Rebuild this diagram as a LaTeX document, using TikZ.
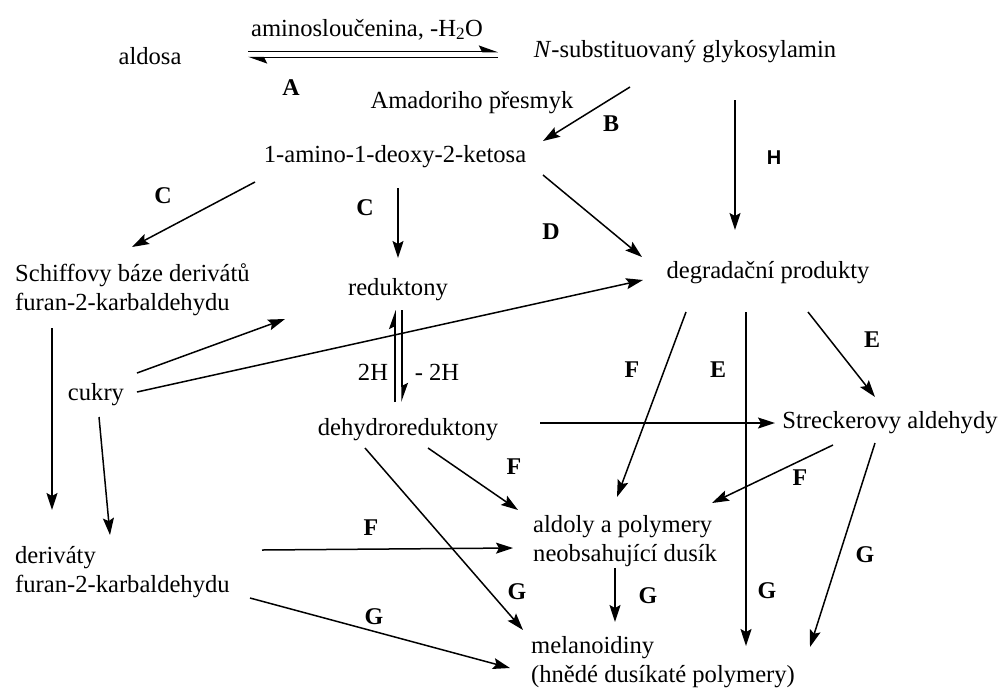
\documentclass[tikz,border=0pt]{standalone}
\usepackage{fontspec}
\setmainfont{Liberation Serif}
\setsansfont{Liberation Sans}
\usetikzlibrary{arrows.meta}
\tikzset{
  chem/.style={font=\fontsize{24.6}{29}\selectfont, inner sep=0pt},
  chemtwo/.style={chem, align=left, anchor=west},
  tag/.style={font=\bfseries\fontsize{24}{26}\selectfont, inner sep=0pt},
  flow/.style={-{Stealth[length=17pt,width=11pt,inset=3pt]}, line width=1.5pt},
  half/.style={-{Stealth[harpoon,length=17pt,width=12pt,inset=3pt]}, line width=1.5pt},
}

\begin{document}
\begin{tikzpicture}[x=1pt, y=-1pt]
    \useasboundingbox (0,0) rectangle (1006,689);
    % substances
    \node[chem, anchor=base] (ald) at (150,64) {aldosa};
    \node[chem, anchor=base] (amino) at (367,36) {aminosloučenina, -H\textsubscript{2}O};
    \node[chem, anchor=base] (gly) at (685,57) {\textit{N}-substituovaný glykosylamin};
    \node[chem, anchor=base] (amad) at (472,108) {Amadoriho přesmyk};
    \node[chem, anchor=base] (ket) at (395,162) {1-amino-1-deoxy-2-ketosa};
    \node[chemtwo] (schiff) at (15,290) {Schiffovy báze derivátů\\furan-2-karbaldehydu};
    \node[chem, anchor=base] (red) at (398,295) {reduktony};
    \node[chem, anchor=base] (deg) at (768,278) {degradační produkty};
    \node[chem, anchor=base] (cuk) at (96,400) {cukry};
    \node[chem, anchor=base] (red2h) at (373,380) {2H};
    \node[chem, anchor=base] (ox2h) at (437,380) {- 2H};
    \node[chem, anchor=base] (dehy) at (408,435) {dehydroreduktony};
    \node[chem, anchor=base] (str) at (890,428) {Streckerovy aldehydy};
    \node[chemtwo] (der) at (15,572) {deriváty\\furan-2-karbaldehydu};
    \node[chemtwo] (aldol) at (533,541) {aldoly a polymery\\neobsahující dusík};
    \node[chemtwo] (mel) at (531,662) {melanoidiny\\(hnědé dusíkaté polymery)};
    % reaction letters
    \node[tag] (tA) at (291,88) {A};
    \node[tag] (tB) at (611,124) {B};
    \node[tag, font=\sffamily\bfseries\fontsize{20}{22}\selectfont] (tH) at (774,158) {H};
    \node[tag] (tC1) at (163,196) {C};
    \node[tag] (tC2) at (365,208) {C};
    \node[tag] (tD) at (551,232) {D};
    \node[tag] (tE1) at (872,340) {E};
    \node[tag] (tE2) at (718,370) {E};
    \node[tag] (tF1) at (632,370) {F};
    \node[tag] (tF2) at (514,467) {F};
    \node[tag] (tF3) at (800,478) {F};
    \node[tag] (tF4) at (371,528) {F};
    \node[tag] (tG1) at (517,592) {G};
    \node[tag] (tG2) at (648,596) {G};
    \node[tag] (tG3) at (767,591) {G};
    \node[tag] (tG4) at (865,555) {G};
    \node[tag] (tG5) at (374,617) {G};
    % arrows
    \draw[half] ([shift={(98,-12.5)}]ald.base) -- ([shift={(-187,-5.5)}]gly.base);
    \draw[half] ([shift={(-187,0.5)}]gly.base) -- ([shift={(98,-6.5)}]ald.base);
    \draw[flow] ([shift={(-55,30)}]gly.base) -- ([shift={(148,-21)}]ket.base);
    \draw[flow] ([shift={(50,43)}]gly.base) -- ([shift={(-33,-48)}]deg.base);
    \draw[flow] ([shift={(148,13)}]ket.base) -- ([shift={(-126,-21)}]deg.base);
    \draw[flow] ([shift={(-140,20)}]ket.base) -- ([shift={(117,-43)}]schiff.west);
    \draw[flow] ([shift={(3,26)}]ket.base) -- ([shift={(0,-37)}]red.base);
    \draw[flow] ([shift={(37,38)}]schiff.west) -- ([shift={(37,-62)}]der.west);
    \draw[flow] ([shift={(41,-27)}]cuk.base) -- ([shift={(-113,24)}]red.base);
    \draw[flow] ([shift={(41,-8)}]cuk.base) -- ([shift={(-125,2)}]deg.base);
    \draw[flow] ([shift={(3,17)}]cuk.base) -- ([shift={(95,-37)}]der.west);
    \draw[half] ([shift={(-13,-33)}]dehy.base) -- ([shift={(-3,15)}]red.base);
    \draw[half] ([shift={(4,15)}]red.base) -- ([shift={(-6,-33)}]dehy.base);
    \draw[flow] ([shift={(132,-12)}]dehy.base) -- ([shift={(-115,-5)}]str.base);
    \draw[flow] ([shift={(40,34)}]deg.base) -- ([shift={(-15,-31)}]str.base);
    \draw[flow] ([shift={(-22,34)}]deg.base) -- ([shift={(215,-16)}]mel.west);
    \draw[flow] ([shift={(-82,34)}]deg.base) -- ([shift={(84,-44)}]aldol.west);
    \draw[flow] ([shift={(-57,17)}]str.base) -- ([shift={(179,-38)}]aldol.west);
    \draw[flow] ([shift={(-15,15)}]str.base) -- ([shift={(279,-15)}]mel.west);
    \draw[flow] ([shift={(20,13)}]dehy.base) -- ([shift={(-15,-31)}]aldol.west);
    \draw[flow] ([shift={(-43,13)}]dehy.base) -- ([shift={(-8,-32)}]mel.west);
    \draw[flow] ([shift={(247,-22)}]der.west) -- ([shift={(-20,7)}]aldol.west);
    \draw[flow] ([shift={(235,26)}]der.west) -- ([shift={(-21,6)}]mel.west);
    \draw[flow] ([shift={(82,27)}]aldol.west) -- ([shift={(84,-40)}]mel.west);
\end{tikzpicture}
\end{document}
